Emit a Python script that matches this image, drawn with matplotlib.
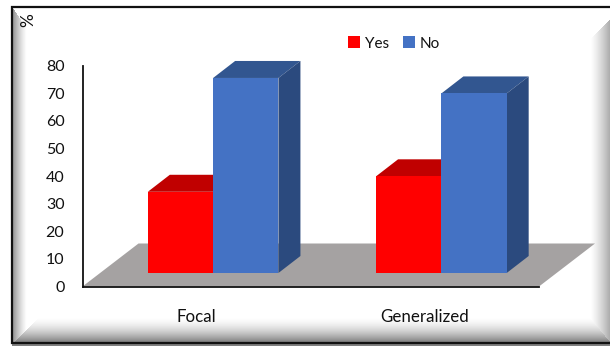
import matplotlib
matplotlib.use("Agg")
import matplotlib.pyplot as plt
import matplotlib.transforms as mtransforms
import numpy as np
from matplotlib.patches import Polygon

plt.rcParams['font.family'] = ['Lato', 'DejaVu Sans']

categories = ["Focal", "Generalized"]
series_names = ["Yes", "No"]
yes_values = [29.4, 35.0]
no_values = [70.6, 65.0]
y_ticks = [0, 10, 20, 30, 40, 50, 60, 70, 80]

W, H = 610, 346
fig = plt.figure(figsize=(W / 100, H / 100), dpi=100, facecolor="white")

# bevelled picture frame behind the chart
bg = fig.add_axes([0, 0, 1, 1], zorder=0)
xx, yy = np.meshgrid(np.arange(W) + 0.5, np.arange(H) + 0.5)
shade = np.ones((H, W))
left = np.clip(1 - (xx - 13) / 14, 0, 1)
right = np.clip((xx - 590) / 20, 0, 1)
bottom = np.clip((yy - 316) / 26, 0, 1)
# the frame has no top edge, so the side bevels start on a diagonal
left_mask = (xx > 12) & (yy - 8 > (xx - 13) * 1.5) & (342 - yy > xx - 15)
right_mask = (yy > 19 + (610 - xx)) & (342 - yy > (610 - xx) * 1.2)
bottom_mask = ~left_mask & ~right_mask & (yy > 300) & (xx > 12)
shade = np.where(left_mask, 1 - 0.42 * left ** 1.3, shade)
shade = np.where(right_mask, 1 - 0.33 * right ** 1.3, shade)
shade = np.where(bottom_mask, 1 - 0.5 * bottom ** 1.8, shade)
bg.imshow(shade, cmap="gray", vmin=0, vmax=1, extent=(0, W, H, 0), aspect="auto", interpolation="bilinear")
bg.set_xlim(0, W)
bg.set_ylim(H, 0)
bg.axis("off")
bg.plot([W, 12, 12, W], [7, 7, 343, 343], color="#111111", lw=1.6, solid_joinstyle="miter")

# chart axes, placed in pixels
ax_l, ax_r, ax_t, ax_b = 82.5, 539, 65.5, 286.5
ax = fig.add_axes([ax_l / W, 1 - ax_b / H, (ax_r - ax_l) / W, (ax_b - ax_t) / H], zorder=1)
ax.patch.set_alpha(0)
ax.set_xlim(-0.5, 1.5)
ax.set_ylim(0, 80)
px_x = 2 / (ax_r - ax_l)
px_y = 80 / (ax_b - ax_t)

# depth of the floor and of the bars
floor_dx, floor_dy = 56 * px_x, 43 * px_y
depth_dx, depth_dy = 22 * px_x, 17 * px_y
base = 13.5 * px_y
bar_w = 65.3 * px_x
shift = 16.5 * px_x

floor = Polygon([(-0.5, 0), (1.5, 0), (1.5 + floor_dx, floor_dy), (-0.5 + floor_dx, floor_dy)],
                closed=True, fc="#A5A2A2", ec="none", clip_on=False, zorder=1)
ax.add_patch(floor)

x = np.arange(len(categories))
colors = ["#FF0000", "#4472C4"]
tops = ["#C00000", "#325690"]
sides = ["#A80000", "#2B4A7E"]

# red bars go first so the blue ones sit in front of their side faces
for i, vals in enumerate([yes_values, no_values]):
    xs = x + shift + (i - 0.5) * bar_w
    ax.bar(xs, vals, bar_w, bottom=base, color=colors[i], label=series_names[i], zorder=3 + i, clip_on=False)
    for xc, v in zip(xs, vals):
        x0, x1 = xc - bar_w / 2, xc + bar_w / 2
        y1 = base + v
        ax.add_patch(Polygon([(x0, y1), (x1, y1), (x1 + depth_dx, y1 + depth_dy), (x0 + depth_dx, y1 + depth_dy)],
                             closed=True, fc=tops[i], ec="none", clip_on=False, zorder=2.5 + i))
        ax.add_patch(Polygon([(x1, base), (x1 + depth_dx, base + depth_dy), (x1 + depth_dx, y1 + depth_dy), (x1, y1)],
                             closed=True, fc=sides[i], ec="none", clip_on=False, zorder=2.5 + i))

for side in ["top", "right"]:
    ax.spines[side].set_visible(False)
for side in ["left", "bottom"]:
    ax.spines[side].set_linewidth(1.3)
    ax.spines[side].set_color("#111111")
    ax.spines[side].set_zorder(6)

ax.set_yticks(y_ticks)
ax.set_xticks(x)
ax.set_xticklabels(categories)
ax.tick_params(axis="both", length=0, labelcolor="#111111")
ax.tick_params(axis="y", pad=13, labelsize=11.5)
ax.tick_params(axis="x", pad=16.5, labelsize=12.2)

handles, labels = ax.get_legend_handles_labels()
fig.legend(handles, labels, loc="center", bbox_to_anchor=(394 / W, 1 - 43.5 / H), ncol=2, frameon=False,
           fontsize=11, handlelength=0.8, handleheight=0.8, handletextpad=0.3, columnspacing=0.9,
           labelcolor="#111111")

bg.text(28, 20.5, "%", rotation=90, ha="center", va="center", fontsize=12.5, color="#111111")

fig.savefig("out.png", dpi=100)
